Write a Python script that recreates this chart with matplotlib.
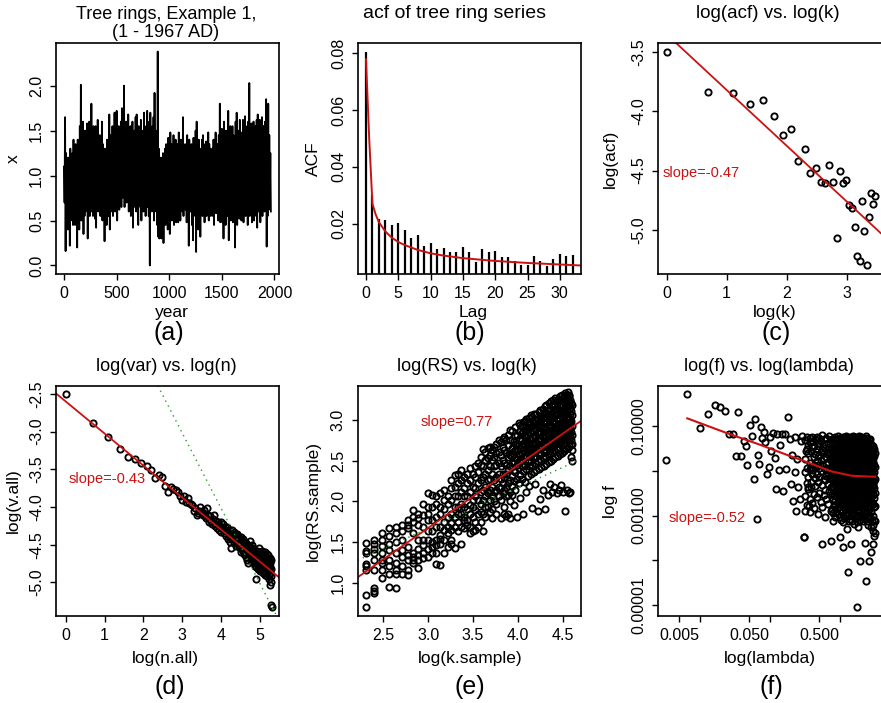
import numpy as np
import matplotlib
matplotlib.use("Agg")
import matplotlib.pyplot as plt

plt.rcParams['font.family'] = ['Liberation Sans', 'DejaVu Sans']

W, H = 881, 703

# ---------------- data ----------------
# (a) tree ring series: local peaks (years 1, 11, ...) and troughs (years 6, 16, ...)
peak_years = np.arange(1, 1968, 10)
trough_years = np.arange(6, 1968, 10)
ring_peaks = [
    1.10, 1.65, 1.25, 1.00, 1.20, 1.05, 1.30, 1.15, 1.25, 1.40,
    1.20, 1.35, 1.10, 1.40, 1.25, 1.55, 2.01, 1.45, 1.60, 1.35,
    1.50, 1.45, 1.58, 1.30, 1.60, 1.40, 1.80, 1.45, 1.55, 1.35,
    1.55, 1.40, 1.62, 1.30, 1.45, 1.25, 1.60, 1.35, 1.20, 1.30,
    1.25, 1.40, 1.30, 1.68, 1.45, 1.35, 1.55, 1.40, 1.70, 1.45,
    1.72, 1.40, 1.55, 1.45, 1.60, 1.75, 1.50, 2.00, 1.55, 1.60,
    1.45, 1.68, 1.50, 1.55, 1.40, 1.60, 1.35, 1.50, 1.65, 1.68,
    1.40, 1.55, 1.45, 1.62, 1.35, 1.50, 1.70, 1.45, 1.55, 1.72,
    1.50, 1.60, 1.70, 1.45, 1.55, 1.65, 1.92, 1.50, 1.40, 2.38,
    1.30, 1.15, 1.20, 1.10, 1.25, 1.05, 1.30, 1.35, 1.20, 1.42,
    1.30, 1.48, 1.35, 1.25, 1.45, 1.30, 1.40, 1.20, 1.35, 1.48,
    1.30, 1.40, 1.35, 1.65, 1.25, 1.35, 1.20, 1.45, 1.30, 1.40,
    1.25, 1.35, 1.20, 1.42, 1.30, 1.50, 1.60, 1.35, 1.40, 1.30,
    1.28, 1.40, 1.45, 1.30, 1.35, 1.38, 1.25, 1.48, 1.35, 1.30,
    1.25, 1.30, 1.40, 1.35, 1.48, 1.30, 1.35, 1.45, 1.80, 1.40,
    1.52, 1.35, 1.60, 1.40, 1.50, 1.35, 1.72, 1.45, 1.55, 1.40,
    1.55, 1.45, 1.40, 1.60, 1.70, 1.40, 1.50, 1.62, 1.35, 1.48,
    1.62, 1.45, 1.66, 1.50, 1.55, 1.60, 2.03, 1.50, 1.58, 1.45,
    1.60, 1.50, 1.55, 1.62, 1.68, 1.45, 1.62, 1.50, 1.65, 1.55,
    1.55, 1.60, 1.85, 1.50, 1.80, 1.45, 1.25,
]
ring_troughs = [
    0.70, 0.16, 0.55, 0.40, 0.60, 0.22, 0.50, 0.65, 0.45, 0.55,
    0.45, 0.60, 0.20, 0.55, 0.40, 0.65, 0.50, 0.70, 0.35, 0.55,
    0.60, 0.70, 0.30, 0.65, 0.55, 0.75, 0.60, 0.55, 0.70, 0.52,
    0.42, 0.70, 0.60, 0.75, 0.55, 0.65, 0.50, 0.60, 0.27, 0.55,
    0.45, 0.65, 0.55, 0.40, 0.70, 0.60, 0.55, 0.75, 0.60, 0.65,
    0.50, 0.70, 0.62, 0.80, 0.65, 0.75, 0.85, 0.65, 0.80, 0.70,
    0.80, 0.60, 0.75, 0.55, 0.70, 0.42, 0.65, 0.75, 0.60, 0.70,
    0.45, 0.70, 0.65, 0.50, 0.75, 0.60, 0.70, 0.55, 0.80, 0.65,
    0.55, 0.00, 0.70, 0.60, 0.75, 0.50, 0.65, 0.60, 0.45, 0.32,
    0.30, 0.45, 0.30, 0.50, 0.25, 0.60, 0.45, 0.55, 0.40, 0.50,
    0.35, 0.60, 0.50, 0.55, 0.45, 0.65, 0.48, 0.60, 0.48, 0.55,
    0.50, 0.65, 0.60, 0.55, 0.70, 0.62, 0.48, 0.55, 0.22, 0.60,
    0.60, 0.45, 0.28, 0.65, 0.55, 0.15, 0.60, 0.40, 0.55, 0.32,
    0.60, 0.55, 0.70, 0.48, 0.65, 0.55, 0.60, 0.50, 0.65, 0.55,
    0.62, 0.55, 0.45, 0.60, 0.58, 0.65, 0.50, 0.60, 0.48, 0.55,
    0.48, 0.30, 0.60, 0.45, 0.62, 0.55, 0.28, 0.60, 0.50, 0.65,
    0.48, 0.60, 0.20, 0.55, 0.45, 0.65, 0.52, 0.60, 0.50, 0.55,
    0.48, 0.60, 0.55, 0.65, 0.45, 0.60, 0.55, 0.65, 0.48, 0.60,
    0.50, 0.62, 0.55, 0.42, 0.60, 0.65, 0.48, 0.60, 0.55, 0.62,
    0.60, 0.65, 0.21, 0.55, 0.62, 0.70, 0.60,
]

# (b) sample acf, lags 0..32, and the fitted curve
acf_lag = np.arange(0, 33)
acf_val = [0.0806, 0.0302, 0.0215, 0.0214, 0.0195, 0.0202, 0.0176, 0.0150,
           0.0158, 0.0120, 0.0133, 0.0109, 0.0114, 0.0101, 0.0100, 0.0116,
           0.0101, 0.0063, 0.0111, 0.0100, 0.0103, 0.0083, 0.0081, 0.0069,
           0.0054, 0.0052, 0.0086, 0.0067, 0.0050, 0.0075, 0.0092, 0.0084,
           0.0090]
fit_lag = [0, 0.5, 1, 1.5, 2, 3, 4, 5, 6, 8, 10, 12, 15, 20, 25, 33.3]
fit_acf = [0.078, 0.050, 0.027, 0.0232, 0.0205, 0.0172, 0.0150, 0.0135,
           0.0124, 0.0107, 0.0095, 0.0087, 0.0078, 0.0068, 0.0061, 0.0052]

# (d) log variance of block means
n_all = np.arange(1, 201)
log_v_all = [
    -2.50, -2.88, -3.07, -3.23, -3.33, -3.36, -3.42, -3.45, -3.51, -3.61,
    -3.58, -3.60, -3.72, -3.80, -3.73, -3.76, -3.77, -3.80, -3.85, -3.91,
    -3.86, -3.93, -3.88, -3.95, -3.96, -3.98, -4.05, -4.02, -4.10, -4.08,
    -4.05, -4.00, -4.08, -4.10, -4.04, -4.12, -4.15, -4.02, -4.10, -4.20,
    -4.12, -4.18, -4.22, -4.16, -4.10, -4.22, -4.25, -4.18, -4.28, -4.20,
    -4.24, -4.30, -4.26, -4.20, -4.33, -4.28, -4.22, -4.35, -4.30, -4.26,
    -4.30, -4.38, -4.32, -4.27, -4.42, -4.36, -4.30, -4.46, -4.40, -4.55,
    -4.35, -4.30, -4.42, -4.38, -4.33, -4.48, -4.40, -4.36, -4.45, -4.52,
    -4.40, -4.36, -4.48, -4.44, -4.38, -4.52, -4.46, -4.42, -4.55, -4.60,
    -4.45, -4.40, -4.52, -4.48, -4.58, -4.43, -4.55, -4.62, -4.50, -4.47,
    -4.52, -4.60, -4.48, -4.66, -4.56, -4.50, -4.70, -4.62, -4.55, -4.75,
    -4.58, -4.52, -4.64, -4.68, -4.55, -4.45, -4.60, -4.72, -4.62, -4.50,
    -4.66, -4.58, -4.70, -4.62, -4.55, -4.74, -4.68, -4.60, -4.78, -4.65,
    -4.62, -4.72, -4.80, -4.95, -4.66, -4.58, -4.70, -4.76, -4.64, -4.82,
    -4.68, -4.60, -4.74, -4.80, -4.66, -4.55, -4.72, -4.85, -4.70, -4.64,
    -4.75, -4.62, -4.70, -4.82, -4.58, -4.68, -4.78, -4.72, -4.88, -4.66,
    -4.70, -4.62, -4.80, -4.75, -4.68, -4.85, -4.60, -4.78, -4.72, -4.90,
    -4.66, -4.76, -4.82, -4.70, -4.88, -4.62, -4.80, -4.74, -4.92, -4.68,
    -4.78, -4.70, -4.85, -4.64, -4.90, -4.76, -4.82, -4.72, -4.95, -5.04,
    -4.80, -4.68, -4.88, -4.75, -4.92, -4.82, -4.70, -5.00, -5.30, -5.33,
]

# (e) log R/S for block sizes k = 10..100
k_sample = list(range(10, 101))
log_rs_by_k = [
    [1.49, 1.39, 1.36, 1.23, 1.20, 1.15, 0.85, 0.70],
    [1.53, 1.47, 1.42, 1.36, 1.28, 1.15, 0.94, 0.90, 0.87],
    [1.61, 1.52, 1.45, 1.36, 1.28, 1.24, 1.16, 1.06],
    [1.67, 1.57, 1.47, 1.40, 1.28, 1.20, 1.11, 0.95],
    [1.69, 1.61, 1.50, 1.36, 1.24, 1.15, 1.11, 0.94],
    [1.71, 1.63, 1.52, 1.40, 1.32, 1.20, 1.11],
    [1.77, 1.71, 1.67, 1.44, 1.34, 1.28, 1.15, 1.09],
    [1.89, 1.81, 1.75, 1.61, 1.36, 1.32, 1.28, 1.24],
    [1.85, 1.79, 1.71, 1.52, 1.42, 1.34, 1.28, 1.18],
    [1.97, 1.83, 1.69, 1.52, 1.46, 1.36, 1.30],
    [2.10, 1.93, 1.85, 1.77, 1.63, 1.52, 1.42, 1.32],
    [2.08, 1.93, 1.77, 1.63, 1.50, 1.44, 1.36],
    [2.06, 1.97, 1.81, 1.69, 1.52, 1.46, 1.36, 1.23],
    [2.10, 1.93, 1.85, 1.69, 1.59, 1.54, 1.48, 1.22],
    [2.14, 2.02, 1.91, 1.75, 1.65, 1.52, 1.36],
    [2.06, 1.97, 1.81, 1.69, 1.61, 1.44],
    [2.26, 2.16, 2.02, 1.85, 1.73, 1.65, 1.52, 1.48],
    [2.32, 2.18, 2.06, 1.93, 1.81, 1.69, 1.43],
    [2.34, 2.22, 2.06, 1.93, 1.85, 1.75, 1.63],
    [2.38, 2.26, 2.12, 1.97, 1.85, 1.69, 1.48],
    [2.30, 2.16, 2.06, 1.93, 1.81, 1.77, 1.67],
    [2.34, 2.22, 2.06, 1.91, 1.77, 1.71],
    [2.41, 2.26, 2.12, 1.95, 1.85, 1.69, 1.61],
    [2.34, 2.18, 2.02, 1.93, 1.81, 1.63],
    [2.43, 2.30, 2.16, 2.06, 1.89, 1.75, 1.65],
    [2.47, 2.36, 2.22, 2.02, 1.85, 1.69],
    [2.55, 2.45, 2.26, 2.12, 1.97, 1.87, 1.75],
    [2.64, 2.43, 2.30, 2.14, 2.02, 1.85, 1.64],
    [2.61, 2.51, 2.34, 2.18, 2.06, 1.93, 1.81],
    [2.65, 2.53, 2.39, 2.26, 2.10, 1.93],
    [2.67, 2.57, 2.43, 2.28, 2.14, 2.02, 1.87],
    [2.63, 2.51, 2.34, 2.18, 2.06, 1.91, 1.79],
    [2.67, 2.55, 2.43, 2.26, 2.12, 2.00],
    [2.71, 2.59, 2.45, 2.30, 2.14, 1.97, 1.85],
    [2.75, 2.61, 2.47, 2.34, 2.18, 2.06],
    [2.73, 2.57, 2.43, 2.28, 2.16, 2.02, 1.80],
    [2.77, 2.67, 2.51, 2.34, 2.22, 2.10],
    [2.79, 2.63, 2.47, 2.30, 2.14, 1.93, 1.85],
    [2.75, 2.59, 2.45, 2.34, 2.18, 2.06, 1.82],
    [2.81, 2.69, 2.55, 2.39, 2.22, 2.08, 1.85],
    [2.88, 2.75, 2.57, 2.43, 2.26, 2.12, 2.00, 1.79],
    [2.86, 2.66, 2.47, 2.31, 2.19, 2.08, 2.56],
    [2.74, 2.58, 2.39, 2.25, 1.96, 2.62, 2.47],
    [2.91, 2.71, 2.53, 2.36, 2.14, 2.80, 2.62],
    [2.81, 2.63, 2.45, 2.28, 1.81, 2.52, 2.71],
    [2.96, 2.77, 2.57, 2.41, 2.22, 2.69, 2.49],
    [2.87, 2.65, 2.51, 2.33, 2.04, 2.94, 2.77],
    [2.93, 2.75, 2.60, 2.43, 2.27, 2.84, 2.51],
    [2.97, 2.71, 2.54, 2.37, 1.85, 2.63, 2.86],
    [2.88, 2.79, 2.62, 2.45, 2.24, 2.99, 2.54],
    [3.01, 2.73, 2.56, 2.40, 2.11, 2.86, 2.64],
    [2.95, 2.82, 2.64, 2.48, 2.31, 2.70, 2.90],
    [3.03, 2.77, 2.59, 2.44, 2.19, 2.91, 2.68],
    [2.92, 2.84, 2.66, 2.50, 2.34, 3.06, 2.57],
    [3.04, 2.79, 2.61, 2.45, 1.92, 2.71, 2.93],
    [3.07, 2.87, 2.69, 2.53, 2.36, 2.96, 2.61],
    [2.99, 2.81, 2.64, 2.47, 2.21, 2.56, 2.73],
    [3.08, 2.89, 2.72, 2.55, 2.38, 3.00, 2.64],
    [3.01, 2.85, 2.67, 2.49, 1.88, 2.76, 2.95],
    [3.10, 2.92, 2.74, 2.57, 2.40, 2.83, 2.66],
    [3.12, 2.87, 2.69, 2.52, 2.03, 2.97, 2.78],
    [3.05, 2.93, 2.76, 2.58, 2.42, 2.66, 3.00],
    [3.13, 2.90, 2.71, 2.54, 2.14, 3.02, 2.81],
    [3.09, 2.96, 2.78, 2.61, 2.44, 2.85, 2.70],
    [3.17, 2.91, 2.73, 2.56, 1.90, 2.68, 3.04],
    [3.19, 2.98, 2.80, 2.62, 2.46, 3.07, 2.72],
    [3.11, 2.94, 2.75, 2.58, 2.08, 2.87, 2.83],
    [3.21, 3.00, 2.82, 2.64, 2.48, 2.73, 2.92],
    [3.15, 2.95, 2.77, 2.60, 2.21, 3.05, 2.69],
    [3.23, 3.02, 2.84, 2.66, 2.50, 2.91, 2.75],
    [3.19, 2.97, 2.79, 2.61, 2.12, 2.71, 3.08],
    [3.25, 3.04, 2.86, 2.68, 2.52, 3.12, 2.77],
    [3.17, 2.99, 2.81, 2.63, 2.18, 2.90, 2.72],
    [3.27, 3.06, 2.88, 2.70, 2.54, 2.77, 3.14],
    [3.21, 3.01, 2.83, 2.65, 2.10, 3.13, 2.90],
    [3.26, 3.08, 2.90, 2.72, 2.56, 2.95, 2.80],
    [3.23, 3.03, 2.85, 2.67, 2.14, 2.76, 3.12],
    [3.29, 3.10, 2.92, 2.74, 2.58, 3.17, 2.84],
    [3.25, 3.05, 2.87, 2.69, 2.20, 2.96, 2.78],
    [3.31, 3.12, 2.94, 2.76, 2.60, 2.81, 3.19],
    [3.27, 3.07, 2.89, 2.71, 2.12, 3.18, 2.96],
    [3.29, 3.14, 2.96, 2.78, 2.62, 2.99, 2.86],
    [3.33, 3.09, 2.91, 2.73, 1.88, 2.83, 3.20],
    [3.27, 3.16, 2.98, 2.80, 2.64, 3.21, 2.90],
    [3.31, 3.11, 2.93, 2.75, 2.14, 3.02, 2.85],
    [3.34, 3.18, 3.00, 2.82, 2.66, 2.87, 3.24],
    [3.29, 3.13, 2.95, 2.77, 2.10, 3.22, 3.01],
    [3.31, 3.19, 3.02, 2.84, 2.68, 2.93, 2.88],
    [3.25, 3.15, 2.97, 2.79, 2.12, 3.08, 2.90],
    [3.21, 3.11, 2.99, 2.85, 2.69, 2.55, 2.76],
    [3.19, 3.06, 2.93, 2.81, 2.63, 2.50, 2.70],
]

# (f) periodogram, read as log10 values (low frequencies one by one)
lam_log10 = [
    -2.487, -2.187, -2.011, -1.891, -1.796, -1.715, -1.653, -1.596, -1.534, -1.463,
    -1.496, -1.415, -1.377, -1.349, -1.330, -1.291, -1.258, -1.239, -1.215, -1.196,
    -1.177, -1.163, -1.130, -1.120, -1.091, -1.072, -1.053, -1.025, -1.006, -0.987,
    -0.958, -0.930, -0.915, -0.901, -0.882, -0.863, -0.834, -0.815, -0.796, -0.772,
    -0.749, -0.725, -0.711, -0.691, -0.677, -0.653, -0.644, -0.630, -0.615, -0.605,
    -0.582, -0.568, -0.549, -0.520, -0.511, -0.487, -0.463, -0.453, -0.439, -0.415,
    -0.525, -0.263, 0.037, 0.109, 0.275, 0.361, 0.242, 0.442, 0.409, 0.156,
    -0.130, -0.011, 0.347, 0.466, 0.251,
]
f_log10 = [
    -1.759, -0.286, -1.052, -0.732, -0.524, -0.583, -0.673, -1.179, -1.179, -0.688,
    -1.662, -1.662, -1.327, -1.446, -1.863, -0.970, -1.223, -2.176, -0.851, -3.068,
    -1.640, -1.848, -1.015, -1.268, -1.141, -1.365, -2.071, -1.923, -1.253, -1.551,
    -1.164, -1.714, -2.414, -1.179, -1.982, -1.417, -1.179, -2.443, -1.179, -1.960,
    -0.807, -1.290, -2.295, -1.640, -2.667, -2.034, -1.253, -2.890, -1.737, -2.369,
    -2.629, -1.327, -1.216, -3.485, -2.890, -1.551, -2.369, -2.778, -1.365, -1.923,
    -3.485, -3.634, -3.708, -4.250, -4.020, -4.450, -5.033, -3.820, -4.006, -3.634,
    -3.560, -3.470, -3.620, -3.634, -3.260,
]
# high frequencies: dense cloud, grouped by frequency
blob_lam_log10 = [
    -0.50, -0.48, -0.46, -0.44, -0.42, -0.40, -0.38, -0.36, -0.34, -0.32,
    -0.30, -0.28, -0.26, -0.24, -0.22, -0.20, -0.18, -0.16, -0.14, -0.12,
    -0.10, -0.08, -0.06, -0.04, -0.02, 0.00, 0.02, 0.04, 0.06, 0.08,
    0.10, 0.12, 0.14, 0.16, 0.18, 0.20, 0.22, 0.24, 0.26, 0.28,
    0.30, 0.32, 0.34, 0.36, 0.38, 0.40, 0.42, 0.44, 0.46, 0.48, 0.49,
    -0.11, -0.09, -0.07, -0.05, -0.03, -0.01, 0.01, 0.03, 0.05, 0.07,
    0.09, 0.11, 0.13, 0.15, 0.17, 0.19, 0.21, 0.23, 0.25, 0.27,
    0.29, 0.31, 0.33, 0.35, 0.37, 0.39, 0.41, 0.43, 0.45, 0.47,
]
blob_f_log10 = [
    [-1.31, -1.74, -2.03, -2.57],
    [-1.24, -1.52, -1.93, -2.27, -2.76],
    [-1.43, -1.61, -2.14, -2.41],
    [-1.27, -1.83, -1.97, -2.63, -2.92],
    [-1.36, -1.55, -2.24, -2.36],
    [-1.25, -1.47, -1.99, -2.71, -2.08],
    [-1.44, -1.69, -1.86, -2.52, -2.84],
    [-1.29, -1.63, -2.17, -2.33, -1.92],
    [-1.24, -1.51, -1.79, -2.06, -2.59],
    [-1.39, -1.67, -2.26, -2.97, -1.88],
    [-1.27, -1.45, -1.93, -2.13, -2.49],
    [-1.34, -1.76, -2.01, -2.69, -1.57],
    [-1.21, -1.54, -1.87, -2.31, -2.81],
    [-1.41, -1.61, -2.19, -2.53, -1.73],
    [-1.30, -1.49, -1.97, -2.42, -3.04, -2.21],
    [-1.26, -1.69, -2.11, -2.63, -1.84],
    [-1.37, -1.59, -1.81, -2.29, -2.73, -2.04],
    [-1.23, -1.46, -1.96, -2.46, -2.17, -1.65],
    [-1.32, -1.71, -2.09, -2.36, -2.89, -1.53],
    [-1.28, -1.49, -1.72, -1.91, -2.21, -2.51, -2.86],
    [-1.37, -1.61, -1.83, -2.04, -2.33, -2.64, -3.11],
    [-1.25, -1.43, -1.67, -1.87, -2.16, -2.44, -2.77],
    [-1.33, -1.56, -1.75, -2.01, -2.27, -2.56, -2.93],
    [-1.23, -1.41, -1.63, -1.84, -2.12, -2.39, -2.69],
    [-1.31, -1.53, -1.74, -1.97, -2.22, -2.47, -2.81, -2.58],
    [-1.27, -1.47, -1.69, -1.91, -2.15, -2.43, -2.73, -3.04],
    [-1.35, -1.57, -1.79, -2.03, -2.29, -2.59, -2.91, -1.62],
    [-1.24, -1.45, -1.65, -1.87, -2.11, -2.37, -2.65, -3.14],
    [-1.31, -1.51, -1.73, -1.99, -2.25, -2.51, -2.85, -2.06],
    [-1.22, -1.41, -1.61, -1.85, -2.09, -2.33, -2.61, -2.97],
    [-1.29, -1.51, -1.71, -1.95, -2.17, -2.47, -2.79, -3.31],
    [-1.37, -1.57, -1.77, -2.01, -2.27, -2.55, -2.87, -1.48],
    [-1.25, -1.45, -1.67, -1.89, -2.13, -2.41, -2.71, -3.07],
    [-1.31, -1.47, -1.63, -1.79, -1.99, -2.17, -2.35, -2.57, -2.83, -3.11],
    [-1.23, -1.39, -1.56, -1.73, -1.89, -2.09, -2.27, -2.49, -2.71, -2.99],
    [-1.35, -1.51, -1.67, -1.83, -2.03, -2.21, -2.43, -2.63, -2.91, -3.19],
    [-1.26, -1.43, -1.59, -1.77, -1.95, -2.11, -2.33, -2.53, -2.77, -3.06],
    [-1.31, -1.45, -1.65, -1.81, -2.01, -2.19, -2.41, -2.61, -2.87, -3.14],
    [-1.22, -1.39, -1.53, -1.73, -1.91, -2.07, -2.29, -2.51, -2.73, -3.01],
    [-1.29, -1.45, -1.61, -1.77, -1.97, -2.15, -2.33, -2.57, -2.81, -3.09],
    [-1.25, -1.41, -1.57, -1.75, -1.91, -2.11, -2.31, -2.51, -2.77, -3.03],
    [-1.33, -1.49, -1.63, -1.83, -1.99, -2.19, -2.37, -2.61, -2.85, -3.13],
    [-1.27, -1.43, -1.59, -1.77, -1.95, -2.13, -2.33, -2.53, -2.79, -3.05],
    [-1.23, -1.37, -1.55, -1.71, -1.87, -2.07, -2.25, -2.49, -2.71, -2.97],
    [-1.31, -1.47, -1.61, -1.81, -1.97, -2.17, -2.35, -2.59, -2.83, -3.11],
    [-1.35, -1.53, -1.69, -1.85, -2.05, -2.21, -2.43, -2.65, -2.89, -3.21],
    [-1.29, -1.45, -1.59, -1.79, -1.95, -2.15, -2.35, -2.55, -2.81, -3.07],
    [-1.41, -1.55, -1.73, -1.89, -2.07, -2.27, -2.45, -2.69, -2.93, -3.25],
    [-1.45, -1.61, -1.81, -1.97, -2.17, -2.33, -2.55, -2.75, -3.01, -3.35],
    [-1.51, -1.67, -1.87, -2.03, -2.23, -2.39, -2.61, -2.81, -3.09, -3.45],
    [-1.61, -1.91, -2.19, -2.49, -2.79, -3.11, -3.39],
    [-1.42, -1.58, -1.79, -1.98, -2.18, -2.39, -2.62, -2.95],
    [-1.30, -1.52, -1.69, -1.92, -2.09, -2.29, -2.55, -2.78],
    [-1.38, -1.61, -1.82, -2.06, -2.24, -2.47, -2.68, -3.02],
    [-1.28, -1.46, -1.71, -1.89, -2.13, -2.33, -2.59, -2.84],
    [-1.36, -1.55, -1.78, -2.00, -2.19, -2.42, -2.71, -2.97],
    [-1.26, -1.44, -1.62, -1.86, -2.06, -2.28, -2.52, -2.88],
    [-1.33, -1.59, -1.76, -1.95, -2.21, -2.45, -2.66, -3.09],
    [-1.29, -1.49, -1.70, -1.92, -2.14, -2.36, -2.62, -2.92],
    [-1.36, -1.54, -1.80, -2.04, -2.20, -2.43, -2.74, -3.06],
    [-1.25, -1.47, -1.66, -1.90, -2.12, -2.30, -2.55, -2.86],
    [-1.34, -1.56, -1.77, -1.99, -2.23, -2.50, -2.70, -3.01],
    [-1.28, -1.44, -1.63, -1.87, -2.07, -2.34, -2.59, -2.93],
    [-1.32, -1.53, -1.74, -1.96, -2.19, -2.44, -2.76, -3.12],
    [-1.26, -1.42, -1.60, -1.84, -2.06, -2.27, -2.52, -2.79],
    [-1.35, -1.53, -1.71, -1.93, -2.12, -2.38, -2.64, -2.94],
    [-1.29, -1.48, -1.65, -1.87, -2.05, -2.24, -2.55, -2.85],
    [-1.24, -1.42, -1.62, -1.80, -2.00, -2.31, -2.48, -2.72],
    [-1.37, -1.54, -1.74, -1.96, -2.16, -2.37, -2.68, -2.98],
    [-1.27, -1.49, -1.69, -1.86, -2.08, -2.27, -2.46, -2.80],
    [-1.33, -1.52, -1.70, -1.90, -2.11, -2.36, -2.63, -2.92],
    [-1.24, -1.46, -1.66, -1.84, -2.04, -2.24, -2.47, -2.74],
    [-1.36, -1.54, -1.72, -1.93, -2.14, -2.41, -2.67, -2.96],
    [-1.29, -1.47, -1.68, -1.88, -2.08, -2.28, -2.50, -2.82],
    [-1.33, -1.51, -1.73, -1.91, -2.10, -2.37, -2.61, -2.90],
    [-1.27, -1.45, -1.64, -1.85, -2.02, -2.23, -2.45, -2.75],
    [-1.38, -1.57, -1.77, -1.95, -2.15, -2.39, -2.63, -3.00],
    [-1.32, -1.49, -1.67, -1.90, -2.09, -2.30, -2.52, -2.85],
    [-1.43, -1.60, -1.81, -2.00, -2.19, -2.41, -2.66, -3.03],
    [-1.47, -1.66, -1.84, -2.03, -2.22, -2.44, -2.70, -3.12],
    [-1.55, -1.72, -1.90, -2.10, -2.30, -2.51, -2.75, -3.20],
]
spec_fit_lam_log10 = [-2.187, -1.585, -1.18, -0.796, -0.468, -0.13, 0.156, 0.398, 0.497]
spec_fit_log10 = [-0.829, -1.179, -1.40, -1.625, -1.811, -2.012, -2.109, -2.128, -2.131]

RED = '#cc1111'
GREEN = '#22a022'

fig = plt.figure(figsize=(W / 100, H / 100), dpi=100)


def make_ax(left, top, width, height):
    ax = fig.add_axes([left / W, 1 - (top + height) / H, width / W, height / H])
    for s in ax.spines.values():
        s.set_linewidth(1.2)
    ax.tick_params(direction='out', length=4.5, width=1.0, labelsize=11.5, pad=4)
    return ax


def ftext(x, y, s, size, rot=0, **kw):
    fig.text(x / W, 1 - y / H, s, fontsize=size, ha='center', va='center',
             rotation=rot, **kw)


def yticks(ax, vals, labels):
    ax.set_yticks(vals, labels=labels, rotation=90, va='center')


def circles(ax, x, y):
    ax.plot(x, y, 'o', mfc='none', mec='black', ms=4.5, mew=1.35)


# (a)
ax = make_ax(55.7, 43, 223.6, 231)
ring_years = np.column_stack([peak_years, trough_years]).ravel()
ring_x = np.column_stack([ring_peaks, ring_troughs]).ravel()
ax.plot(ring_years, ring_x, color='black', lw=1.3)
ax.set_xlim(-78, 2046)
ax.set_ylim(-0.095, 2.475)
ax.set_xticks([0, 500, 1000, 1500, 2000])
yticks(ax, [0, 0.5, 1.0, 1.5, 2.0], ['0.0', '0.5', '1.0', '1.5', '2.0'])

# (b)
ax = make_ax(357.7, 43, 223.3, 231)
ax.vlines(acf_lag, 0, acf_val, color='black', lw=1.6)
ax.plot(fit_lag, fit_acf, color=RED, lw=1.4)
ax.set_xlim(-1.28, 33.28)
ax.set_ylim(0.0022, 0.0837)
ax.set_xticks([0, 5, 10, 15, 20, 25, 30])
yticks(ax, [0.02, 0.04, 0.06, 0.08], ['0.02', '0.04', '0.06', '0.08'])

# (c)
ax = make_ax(658.3, 43, 224.6, 231)
circles(ax, np.log(acf_lag[1:]), np.log(acf_val[1:]))
ax.axline((0, -3.35), slope=-0.47, color=RED, lw=1.3)
ax.text(-0.06, -4.52, 'slope=-0.47', color=RED, fontsize=10.5, va='center')
ax.set_xlim(-0.139, 3.605)
ax.set_ylim(-5.372, -3.424)
ax.set_xticks([0, 1, 2, 3])
yticks(ax, [-3.5, -4.0, -4.5, -5.0], ['-3.5', '-4.0', '-4.5', '-5.0'])

# (d)
ax = make_ax(55.7, 385.7, 223.6, 230.3)
circles(ax, np.log(n_all), log_v_all)
ax.axline((0, -2.599), slope=-0.4256, color=RED, lw=1.3)
ax.axline((0, -0.02), slope=-1.0, color=GREEN, lw=1.0, ls=(0, (1, 3)))
ax.text(0.08, -3.633, 'slope=-0.43', color=RED, fontsize=10.5, va='center')
ax.set_xlim(-0.257, 5.495)
ax.set_ylim(-5.447, -2.39)
ax.set_xticks([0, 1, 2, 3, 4, 5])
yticks(ax, [-2.5, -3.0, -3.5, -4.0, -4.5, -5.0],
       ['-2.5', '-3.0', '-3.5', '-4.0', '-4.5', '-5.0'])

# (e)
ax = make_ax(357.7, 385.7, 223.0, 230.3)
e_x = np.concatenate([np.full(len(r), np.log(k)) for k, r in zip(k_sample, log_rs_by_k)])
e_y = np.concatenate(log_rs_by_k)
circles(ax, e_x, e_y)
ax.axline((0, 0.168), slope=0.5, color=GREEN, lw=1.0, ls=(0, (1, 3)))
ax.axline((2.215, 1.066), slope=0.773, color=RED, lw=1.3)
ax.text(2.91, 2.98, 'slope=0.77', color=RED, fontsize=10.5, va='center')
ax.set_xlim(2.215, 4.70)
ax.set_ylim(0.59, 3.422)
ax.set_xticks([2.5, 3.0, 3.5, 4.0, 4.5], labels=['2.5', '3.0', '3.5', '4.0', '4.5'])
yticks(ax, [1.0, 1.5, 2.0, 2.5, 3.0], ['1.0', '1.5', '2.0', '2.5', '3.0'])

# (f)
ax = make_ax(658.3, 385.7, 225.2, 230.3)
b_x = np.concatenate([np.full(len(r), v) for v, r in zip(blob_lam_log10, blob_f_log10)])
b_y = np.concatenate(blob_f_log10)
circles(ax, 10.0 ** np.asarray(lam_log10), 10.0 ** np.asarray(f_log10))
circles(ax, 10.0 ** b_x, 10.0 ** b_y)
ax.plot(10.0 ** np.asarray(spec_fit_lam_log10), 10.0 ** np.asarray(spec_fit_log10),
        color=RED, lw=1.5)
ax.text(10 ** -2.452, 10 ** -3.048, 'slope=-0.52', color=RED, fontsize=10.5, va='center')
ax.set_xscale('log')
ax.set_yscale('log')
ax.set_xlim(10 ** -2.601, 10 ** 0.616)
ax.set_ylim(10 ** -5.241, 10 ** -0.10)
ax.minorticks_off()
ax.set_xticks([0.005, 0.01, 0.05, 0.1, 0.5, 1.0],
              labels=['0.005', '', '0.050', '', '0.500', ''])
yticks(ax, [1e-5, 1e-4, 1e-3, 1e-2, 1e-1],
       ['0.00001', '', '0.00100', '', '0.10000'])
ax.minorticks_off()

# titles, axis labels, panel letters
ftext(166, 23.3, 'Tree rings, Example 1,\n(1 - 1967 AD)', 13, linespacing=1.1)
ftext(455, 13.3, 'acf of tree ring series', 14)
ftext(768, 13.3, 'log(acf) vs. log(k)', 13.5)
ftext(166, 366.7, 'log(var) vs. log(n)', 13)
ftext(467, 366.7, 'log(RS) vs. log(k)', 13)
ftext(769, 366.7, 'log(f) vs. log(lambda)', 13)

ftext(172, 312, 'year', 12.5)
ftext(473, 312, 'Lag', 12.5)
ftext(775, 312, 'log(k)', 12.5)
ftext(165, 658, 'log(n.all)', 12.5)
ftext(470, 658, 'log(k.sample)', 12.5)
ftext(770, 658, 'log(lambda)', 12.5)

ftext(13.3, 158.5, 'x', 12.5, 90)
ftext(313.3, 158.5, 'ACF', 12.5, 90)
ftext(610, 158.5, 'log(acf)', 12.5, 90)
ftext(13.3, 501, 'log(v.all)', 12.5, 90)
ftext(313.3, 501, 'log(RS.sample)', 12.5, 90)
ftext(610, 501, 'log f', 12.5, 90)

ftext(169, 333, '(a)', 18)
ftext(469.5, 333, '(b)', 18)
ftext(776, 333, '(c)', 18)
ftext(170, 687, '(d)', 18)
ftext(470, 687, '(e)', 18)
ftext(771, 687, '(f)', 18)

fig.savefig('out.png', dpi=100)
